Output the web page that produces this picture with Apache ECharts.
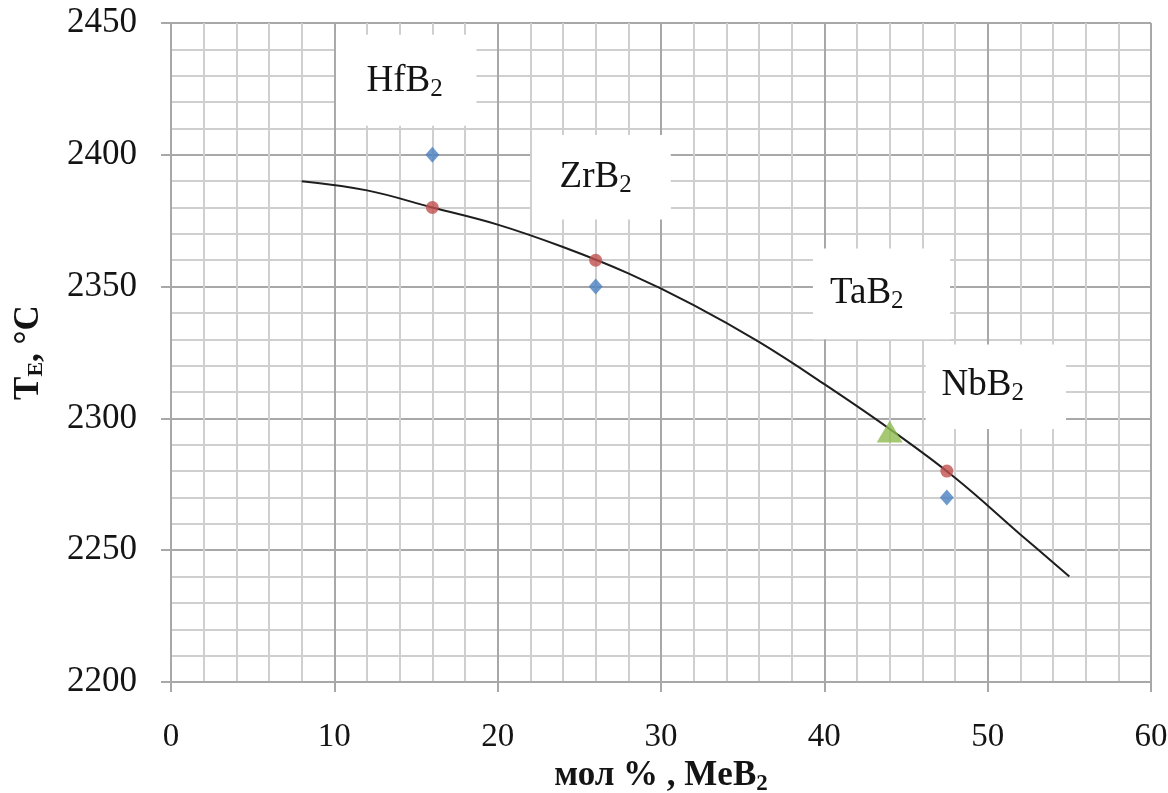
<!DOCTYPE html>
<html>
<head>
<meta charset="utf-8">
<script src="https://cdn.jsdelivr.net/npm/echarts@6/dist/echarts.min.js"></script>
<style>
  html, body { margin: 0; padding: 0; background: #fff; }
  #chart { width: 1168px; height: 793px; }
</style>
</head>
<body>
<div id="chart"></div>
<script>
// measured values (mol % MeB2, T_E in °C)
const blueX = [16, 26, 47.5];
const blueY = [2400, 2350, 2270];
const redX = [16, 26, 47.5];
const redY = [2380, 2360, 2280];
const greenX = [44];
const greenY = [2295];
// trend curve
const curveX = [8, 12, 16, 20, 24, 28, 32, 36, 40, 44, 48, 52, 55];
const curveY = [2390, 2386.5, 2380, 2373.5, 2365, 2355, 2343, 2329, 2313, 2296, 2277.5, 2256, 2240];
// boxed labels
const labelNames = ["Hf", "Zr", "Ta", "Nb"];
const labelX = [14.3, 26.0, 42.6, 49.7];
const labelY = [2428, 2391.5, 2347.5, 2312.5];
const boxX0 = [10.1, 22.1, 39.3, 46.2];
const boxX1 = [18.7, 30.6, 47.7, 54.8];
const boxY0 = [2411, 2375.5, 2330, 2296];
const boxY1 = [2445.5, 2407.5, 2364.5, 2328];
const xTicks = [0, 60, 10];
const yTicks = [2200, 2450, 50];

const serif = '"Liberation Serif", "Times New Roman", serif';
const ink = "#141414";
const majorGrid = "#a8a8a8";
const minorGrid = "#cfcfcf";

const zip = (xs, ys) => xs.map((x, i) => [x, ys[i]]);

const chart = echarts.init(document.getElementById("chart"));
chart.setOption({
  animation: false,
  backgroundColor: "#fff",
  grid: { left: 171, right: 17, top: 23, bottom: 111, containLabel: false, outerBoundsMode: "none" },
  xAxis: {
    type: "value",
    min: xTicks[0], max: xTicks[1], interval: xTicks[2],
    name: "{b|мол % , MeB}{s|2}",
    nameLocation: "middle",
    nameGap: 75,
    nameTextStyle: {
      rich: {
        b: { fontFamily: serif, fontWeight: "bold", fontSize: 35, color: ink },
        s: { fontFamily: serif, fontWeight: "bold", fontSize: 23, color: ink, padding: [15, 0, 0, 0] }
      }
    },
    axisLine: { show: true, lineStyle: { color: majorGrid, width: 2 } },
    axisTick: { show: true, length: 10, lineStyle: { color: majorGrid, width: 2 } },
    axisLabel: { fontFamily: serif, fontSize: 33, color: ink, margin: 39 },
    splitLine: { show: true, lineStyle: { color: majorGrid, width: 2 } },
    minorTick: { show: false, splitNumber: 5 },
    minorSplitLine: { show: true, lineStyle: { color: minorGrid, width: 2 } }
  },
  yAxis: {
    type: "value",
    min: yTicks[0], max: yTicks[1], interval: yTicks[2],
    name: "{b|T}{s|E}{b|, °C}",
    nameLocation: "middle",
    nameGap: 124,
    nameRotate: 90,
    nameTextStyle: {
      rich: {
        b: { fontFamily: serif, fontWeight: "bold", fontSize: 35, color: ink },
        s: { fontFamily: serif, fontWeight: "bold", fontSize: 22, color: ink, padding: [15, 0, 0, 0] }
      }
    },
    axisLine: { show: true, lineStyle: { color: majorGrid, width: 2 } },
    axisTick: { show: true, length: 10, lineStyle: { color: majorGrid, width: 2 } },
    axisLabel: { fontFamily: serif, fontSize: 35, color: ink, margin: 34, formatter: v => String(v) },
    splitLine: { show: true, lineStyle: { color: majorGrid, width: 2 } },
    minorTick: { show: false, splitNumber: 5 },
    minorSplitLine: { show: true, lineStyle: { color: minorGrid, width: 2 } }
  },
  series: [
    {
      name: "boxes",
      type: "scatter",
      z: 1,
      symbolSize: 0,
      data: [],
      markArea: {
        silent: true,
        z: 1,
        itemStyle: { color: "#ffffff", opacity: 1 },
        data: labelNames.map((n, i) => [
          { coord: [boxX0[i], boxY1[i]] },
          { coord: [boxX1[i], boxY0[i]] }
        ])
      }
    },
    {
      name: "labels",
      type: "scatter",
      z: 4,
      silent: true,
      symbol: "circle",
      symbolSize: 1,
      itemStyle: { color: "#ffffff", opacity: 1 },
      data: labelNames.map((n, i) => ({ value: [labelX[i], labelY[i]], name: n })),
      label: {
        show: true,
        position: "inside",
        color: ink,
        opacity: 1,
        textBorderWidth: 0,
        formatter: p => "{m|" + p.name + "B}{s|2}",
        rich: {
          m: { fontFamily: serif, fontSize: 37, color: ink, textBorderWidth: 0 },
          s: { fontFamily: serif, fontSize: 25, color: ink, textBorderWidth: 0, padding: [16, 0, 0, 0] }
        }
      }
    },
    {
      name: "curve",
      type: "line",
      z: 2,
      smooth: 0.4,
      showSymbol: false,
      lineStyle: { color: "#1e1e1e", width: 2 },
      data: zip(curveX, curveY)
    },
    {
      name: "blue",
      type: "scatter",
      z: 3,
      symbol: "diamond",
      symbolSize: [14, 16],
      itemStyle: { color: "#4a7fc1" },
      data: zip(blueX, blueY)
    },
    {
      name: "red",
      type: "scatter",
      z: 3,
      symbol: "circle",
      symbolSize: 13,
      itemStyle: { color: "#c0504d" },
      data: zip(redX, redY)
    },
    {
      name: "green",
      type: "scatter",
      z: 3,
      symbol: "triangle",
      symbolSize: [26, 22],
      itemStyle: { color: "#8fbc4f" },
      data: zip(greenX, greenY)
    }
  ]
});
</script>
</body>
</html>
